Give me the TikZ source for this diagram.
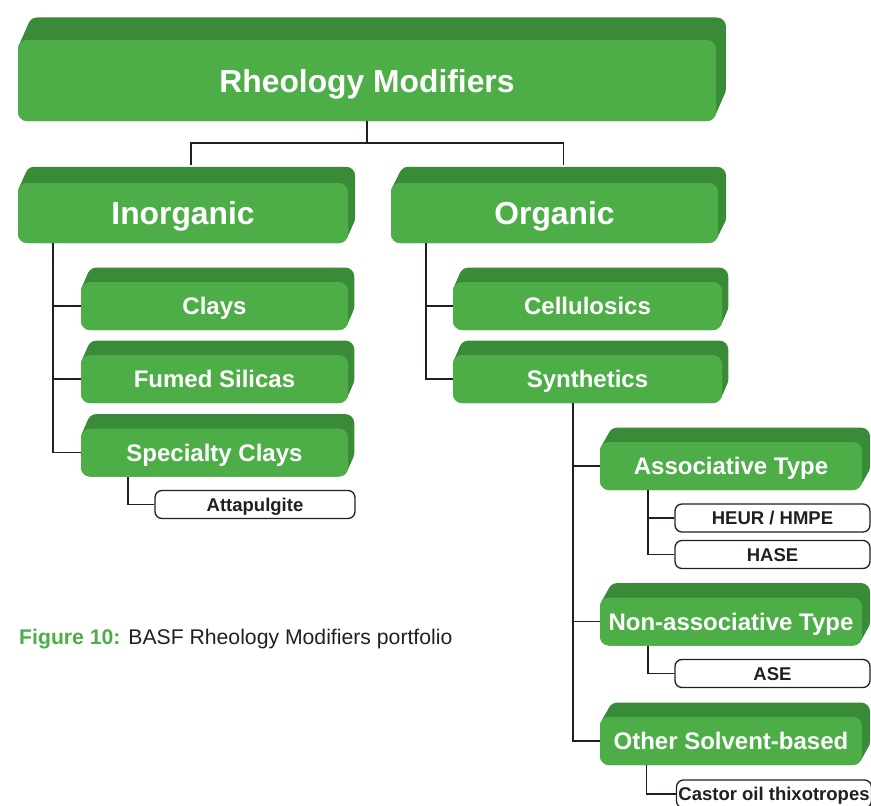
\documentclass[tikz,border=0pt]{standalone}
\usepackage{fontspec}
\setmainfont{Liberation Sans}
\usepackage{xcolor}

\definecolor{leafgreen}{RGB}{77,174,72}
\definecolor{leafdark}{RGB}{57,139,55}
\definecolor{ink}{RGB}{35,31,32}

% green box with a darker extruded back face
\newcommand{\greenbox}[9]{%
  \foreach \s in {0,0.1,...,1}
    \fill[boxback] ({#2-#4/2+\s*#6},{#3-#5/2+\s*#7}) rectangle ++(#4,#5);
  \node[boxfront, #8, minimum width=#4pt, minimum height=#5pt] (#1) at (#2,#3) {#9};
  \coordinate (#1-back) at ({#2+#6},{#3-#5/2+#7});
}

\begin{document}
\begin{tikzpicture}[x=1pt,y=-1pt,
    boxback/.style={fill=leafdark, rounded corners=9pt},
    boxfront/.style={fill=leafgreen, rounded corners=9pt, text=white, inner sep=0pt, outer sep=0pt, text depth=0pt},
    big/.style={font=\fontsize{31.8}{31.8}\selectfont\bfseries, text height=23pt},
    mid/.style={font=\fontsize{24}{24}\selectfont\bfseries, text height=17pt},
    leaf/.style={draw=ink, line width=1.3pt, fill=white, rounded corners=7pt, inner sep=0pt,
      font=\fontsize{18.5}{18.5}\selectfont\bfseries, text=ink, text height=13pt, text depth=0pt,
      minimum height=28pt},
    link/.style={draw=ink, line width=1.9pt}]
  \useasboundingbox (0,0) rectangle (871,806);

  % boxes
  \greenbox{title}{367}{80.5}{698}{81}{11}{-25}{big}{Rheology Modifiers}
  \greenbox{inorg}{183}{213}{330}{60}{8}{-18}{big}{Inorganic}
  \greenbox{org}{554.5}{213}{327}{60}{9}{-18}{big}{Organic}

  \greenbox{clays}{214.5}{306}{267}{48}{7}{-16}{mid}{Clays}
  \greenbox{fumed}{214.5}{379}{267}{48}{7}{-16}{mid}{Fumed Silicas}
  \greenbox{special}{214.5}{452.5}{267}{48}{7}{-16}{mid}{Specialty Clays}

  \greenbox{cellu}{587.5}{306}{269}{48}{7}{-16}{mid}{Cellulosics}
  \greenbox{synth}{587.5}{379}{269}{48}{7}{-16}{mid}{Synthetics}

  \greenbox{assoc}{731}{466}{262}{48}{9}{-16}{mid}{Associative Type}
  \greenbox{nonassoc}{731}{621.5}{262}{48}{9}{-16}{mid}{Non-associative Type}
  \greenbox{other}{731}{741}{262}{48}{9}{-16}{mid}{Other Solvent-based}

  \node[leaf, minimum width=200pt] (attap) at (255,504.5) {Attapulgite};
  \node[leaf, minimum width=195pt] (heur) at (772.5,518) {HEUR / HMPE};
  \node[leaf, minimum width=195pt] (hase) at (772.5,554.5) {HASE};
  \node[leaf, minimum width=195pt] (ase) at (772.5,673.5) {ASE};
  \node[leaf, minimum width=195pt] (castor) at (774,794) {Castor oil thixotropes};

  % connectors
  \draw[link] (title.south) -- ++(0,22) -| (inorg-back);
  \draw[link] (title.south) -- ++(0,22) -| (org-back);

  \draw[link] ([xshift=-130pt]inorg.south) |- (clays.west);
  \draw[link] ([xshift=-130pt]inorg.south) |- (fumed.west);
  \draw[link] ([xshift=-130pt]inorg.south) |- (special.west);
  \draw[link] ([xshift=-86.5pt]special.south) |- (attap.west);

  \draw[link] ([xshift=-128.5pt]org.south) |- (cellu.west);
  \draw[link] ([xshift=-128.5pt]org.south) |- (synth.west);

  \draw[link] ([xshift=-14.5pt]synth.south) |- (assoc.west);
  \draw[link] ([xshift=-14.5pt]synth.south) |- (nonassoc.west);
  \draw[link] ([xshift=-14.5pt]synth.south) |- (other.west);

  \draw[link] ([xshift=-83pt]assoc.south) |- (heur.west);
  \draw[link] ([xshift=-83pt]assoc.south) |- (hase.west);
  \draw[link] ([xshift=-83pt]nonassoc.south) |- (ase.west);
  \draw[link] ([xshift=-84.5pt]other.south) |- (castor.west);

  % caption
  \node[anchor=base west, inner sep=0pt, font=\fontsize{21.2}{21.2}\selectfont, text=ink] (caption) at (19,644)
    {\textcolor{leafgreen}{\bfseries Figure 10:} BASF Rheology Modifiers portfolio};
\end{tikzpicture}
\end{document}
